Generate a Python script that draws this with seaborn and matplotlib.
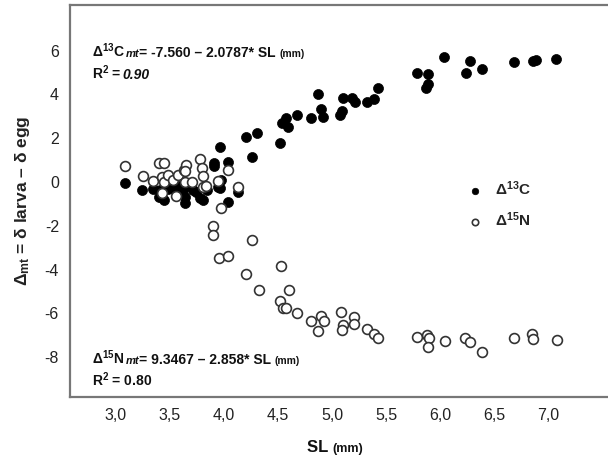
import matplotlib
matplotlib.use("Agg")
import matplotlib.pyplot as plt
import seaborn as sns
import pandas as pd
from matplotlib.offsetbox import TextArea, HPacker, VPacker, AnchoredOffsetbox

# values
c13_sl = [3.08, 3.24, 3.34, 3.40, 3.44, 3.48, 3.55, 3.64, 3.64, 3.62, 3.71, 3.78,
          3.81, 3.84, 3.91, 3.91, 3.94, 3.96, 3.97, 4.04, 4.04, 4.13, 4.20, 4.26,
          4.31, 4.52, 4.54, 4.57, 4.59, 4.68, 4.81, 4.87, 4.90, 4.92, 5.07, 5.09,
          5.10, 5.19, 5.21, 5.32, 5.39, 5.43, 5.79, 5.89, 5.89, 5.87, 6.04, 6.28,
          6.24, 6.39, 6.69, 6.86, 6.89, 7.07, 3.50, 3.57, 3.69, 3.74, 3.96, 3.41]
c13_delta = [-0.05, -0.37, -0.32, -0.68, -0.82, -0.32, -0.37, -0.96, -0.68, -0.37,
             -0.37, -0.73, -0.82, -0.37, 0.87, 0.73, -0.23, 1.60, 0.09, 0.91, -0.91,
             -0.46, 2.05, 1.14, 2.24, 1.78, 2.69, 2.92, 2.51, 3.06, 2.92, 4.02, 3.33,
             2.97, 3.06, 3.24, 3.84, 3.84, 3.65, 3.65, 3.79, 4.29, 4.98, 4.93, 4.47,
             4.29, 5.71, 5.53, 4.98, 5.16, 5.48, 5.53, 5.57, 5.62, -0.18, -0.18,
             -0.18, -0.46, -0.27, -0.37]

n15_sl = [3.08, 3.25, 3.34, 3.40, 3.44, 3.43, 3.44, 3.48, 3.53, 3.56, 3.57, 3.63,
          3.65, 3.64, 3.70, 3.78, 3.80, 3.81, 3.81, 3.83, 3.94, 4.04, 4.13, 3.97,
          3.90, 3.90, 3.95, 4.04, 4.26, 4.20, 4.32, 4.53, 4.60, 4.52, 4.55, 4.57,
          4.68, 4.81, 4.90, 4.93, 4.87, 5.08, 5.10, 5.09, 5.20, 5.20, 5.32, 5.39,
          5.43, 5.79, 5.88, 5.90, 5.89, 6.05, 6.23, 6.28, 6.39, 6.69, 6.85, 6.86,
          7.08, 3.43, 3.64]
n15_delta = [0.73, 0.27, 0.05, 0.87, 0.87, 0.23, 0.0, 0.32, 0.09, -0.64, 0.32, 0.55,
             0.78, 0.0, 0.0, 1.05, 0.64, 0.27, -0.23, -0.18, 0.05, 0.55, -0.23, -1.19,
             -2.01, -2.42, -3.47, -3.38, -2.65, -4.20, -4.93, -3.84, -4.93, -5.43,
             -5.75, -5.75, -5.98, -6.35, -6.12, -6.35, -6.80, -5.94, -6.53, -6.76,
             -6.16, -6.48, -6.71, -6.94, -7.12, -7.08, -6.99, -7.12, -7.53, -7.26,
             -7.12, -7.31, -7.76, -7.12, -6.94, -7.17, -7.21, -0.50, 0.50]

x_ticks = [3.0, 3.5, 4.0, 4.5, 5.0, 5.5, 6.0, 6.5, 7.0]
x_tick_labels = ["3,0", "3,5", "4,0", "4,5", "5,0", "5,5", "6,0", "6,5", "7,0"]
y_ticks = [-8, -6, -4, -2, 0, 2, 4, 6]
y_tick_labels = ["-8", "-6", "-4", "-2", "0", "2", "4", "6"]

df_c = pd.DataFrame({"sl": c13_sl, "delta": c13_delta})
df_n = pd.DataFrame({"sl": n15_sl, "delta": n15_delta})

sns.set_theme(style="white")
plt.rcParams["font.family"] = ["Liberation Sans", "DejaVu Sans"]
plt.rcParams["mathtext.fontset"] = "custom"
plt.rcParams["mathtext.rm"] = "Liberation Sans"
plt.rcParams["mathtext.it"] = "Liberation Sans:italic"
plt.rcParams["mathtext.bf"] = "Liberation Sans:bold"

fig = plt.figure(figsize=(6.08, 4.61), dpi=100)
ax = fig.add_axes([70 / 608, 1 - 397 / 461, 538 / 608, 392 / 461])

sns.scatterplot(data=df_c, x="sl", y="delta", ax=ax, color="black", edgecolor="black",
                s=52, linewidth=0.5, label=r"$\mathbf{\Delta^{13}C}$")
sns.scatterplot(data=df_n, x="sl", y="delta", ax=ax, color="white", edgecolor="#333333",
                s=50, linewidth=1.2, label=r"$\mathbf{\Delta^{15}N}$")

ax.set_xlim(2.574, 7.556)
ax.set_ylim(-9.82, 8.08)
ax.set_xticks(x_ticks)
ax.set_xticklabels(x_tick_labels)
ax.set_yticks(y_ticks)
ax.set_yticklabels(y_tick_labels)
ax.tick_params(direction="in", length=4, width=1, color="#555555",
               labelsize=11.5, labelcolor="#222222", pad=8)

for side in ["left", "top", "bottom"]:
    ax.spines[side].set_color("#777777")
    ax.spines[side].set_linewidth(1.6)
ax.spines["right"].set_visible(False)

ax.set_xlabel("")
ax.set_ylabel(r"$\mathbf{\Delta_{mt}}$ = δ larva – δ egg", fontsize=12.5,
              fontweight="bold", color="#222222")
ax.yaxis.set_label_coords(-0.07, 0.5)

leg = ax.legend(loc="upper left", bbox_to_anchor=(0.738, 0.556), frameon=False,
                fontsize=11, markerscale=0.65, handlelength=1.0, handletextpad=0.8,
                labelspacing=0.85, borderpad=0, borderaxespad=0)


def rich_box(lines, xy, loc="upper left", sep=3):
    rows = []
    for parts in lines:
        kids = [TextArea(t, textprops=dict(fontsize=fs, fontweight="bold",
                                           fontstyle=st, color="#111111"))
                for t, fs, st in parts]
        rows.append(HPacker(children=kids, align="baseline", pad=0, sep=0))
    box = VPacker(children=rows, align="left", pad=0, sep=sep)
    anc = AnchoredOffsetbox(loc=loc, child=box, pad=0, borderpad=0, frameon=False,
                            bbox_to_anchor=xy, bbox_transform=ax.transAxes)
    ax.add_artist(anc)


rich_box([[("Δ$\\mathbf{^{13}}$C ", 10, "normal"), ("mt", 8, "italic"),
           ("= -7.560 – 2.0787* SL ", 10, "normal"), ("(mm)", 7.5, "normal")],
          [("R$\\mathbf{^{2}}$ = ", 10, "normal"), ("0.90", 10, "italic")]],
         (0.041, 0.908))

rich_box([[("Δ$\\mathbf{^{15}}$N ", 10, "normal"), ("mt", 8, "italic"),
           ("= 9.3467 – 2.858* SL ", 10, "normal"), ("(mm)", 7.5, "normal")],
          [("R$\\mathbf{^{2}}$ = 0.80", 10, "normal")]],
         (0.041, 0.125))

xl = HPacker(children=[TextArea("SL ", textprops=dict(fontsize=12, fontweight="bold", color="#111111")),
                       TextArea("(mm)", textprops=dict(fontsize=9, fontweight="bold", color="#111111"))],
             align="baseline", pad=0, sep=0)
ax.add_artist(AnchoredOffsetbox(loc="center", child=xl, pad=0, borderpad=0, frameon=False,
                                bbox_to_anchor=(0.493, -0.128), bbox_transform=ax.transAxes))

fig.savefig("out.png", dpi=100)
